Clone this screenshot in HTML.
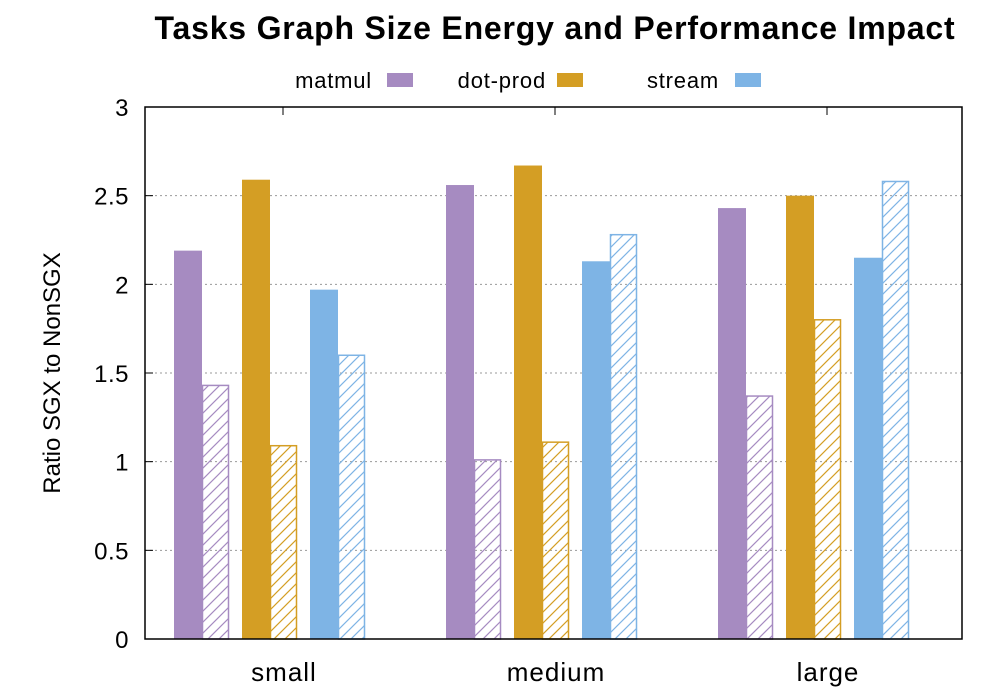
<!DOCTYPE html>
<html><head><meta charset="utf-8"><style>body{margin:0;background:#fff}svg{display:block;font-family:"Liberation Sans",sans-serif}</style></head>
<body>
<svg id="chart" width="1000" height="700">
<defs>
<pattern id="h0" patternUnits="userSpaceOnUse" width="11" height="11"><path d="M-1,12 L12,-1 M-1,1 L1,-1 M10,12 L12,10" stroke="#a68bc1" stroke-width="1.2"/></pattern>
<pattern id="h1" patternUnits="userSpaceOnUse" width="11" height="11"><path d="M-1,12 L12,-1 M-1,1 L1,-1 M10,12 L12,10" stroke="#d49e24" stroke-width="1.2"/></pattern>
<pattern id="h2" patternUnits="userSpaceOnUse" width="11" height="11"><path d="M-1,12 L12,-1 M-1,1 L1,-1 M10,12 L12,10" stroke="#7eb4e5" stroke-width="1.2"/></pattern>
</defs>
<text x="555" y="39" text-anchor="middle" font-size="32" font-weight="bold" letter-spacing="0.8">Tasks Graph Size Energy and Performance Impact</text>
<g id="legend"></g>
<g id="grid"></g>
<g id="bars"></g>
<rect x="145" y="107" width="817" height="532" fill="none" stroke="#000" stroke-width="1.5"/>
<g id="axes"></g>
<text transform="translate(60,373) rotate(-90)" text-anchor="middle" font-size="24">Ratio SGX to NonSGX</text>
</svg>
<script>
const categories = ["small","medium","large"];
const seriesNames = ["matmul","dot-prod","stream"];
const solidValues = [[2.19,2.56,2.43],[2.59,2.67,2.50],[1.97,2.13,2.15]];
const hatchValues = [[1.43,1.01,1.37],[1.09,1.11,1.80],[1.60,2.28,2.58]];
const yTicks = [0,0.5,1,1.5,2,2.5,3];
const yTickLabels = ["0","0.5","1","1.5","2","2.5","3"];
const colors = ["#a68bc1","#d49e24","#7eb4e5"];
{
const NS="http://www.w3.org/2000/svg";
const plotTop=107,plotBottom=639,plotLeft=145,plotRight=962;
function y(v){return plotBottom-(v/3)*(plotBottom-plotTop);}
function groupStart(i){return 174+i*272;}
function tickX(i){return 283+i*272;}
function mk(tag,attrs,parent){const e=document.createElementNS(NS,tag);for(const k in attrs)e.setAttribute(k,attrs[k]);document.getElementById(parent).appendChild(e);return e;}
yTicks.forEach((t,i)=>{
  if(t>0&&t<3){const g=mk('line',{x1:plotLeft,x2:plotRight,y1:y(t),y2:y(t),stroke:'#999','stroke-dasharray':'2,3'},'grid');
  
  }
  const l=mk('text',{x:129,y:y(t)+9,'text-anchor':'end','font-size':'24','letter-spacing':'0.5'},'axes');l.textContent=yTickLabels[i];
  
  
  const tk=mk('line',{x1:plotLeft,x2:plotLeft+8,y1:y(t),y2:y(t),stroke:'#000'},'axes');
  
  
});
categories.forEach((c,i)=>{
  const l=mk('text',{x:tickX(i)+1,y:681,'text-anchor':'middle','font-size':'26','letter-spacing':'1'},'axes');l.textContent=c;
  
  
  const tk=mk('line',{x1:tickX(i),x2:tickX(i),y1:plotTop,y2:plotTop+8,stroke:'#000'},'axes');
  
  
  seriesNames.forEach((s,j)=>{
    const x0=groupStart(i)+j*68;
    const b=mk('rect',{x:x0,y:y(solidValues[j][i]),width:28,height:plotBottom-y(solidValues[j][i]),fill:colors[j]},'bars');
    
    
    const h=mk('rect',{x:x0+28.5,y:y(hatchValues[j][i]),width:26,height:plotBottom-y(hatchValues[j][i]),fill:'url(#h'+j+')',stroke:colors[j],'stroke-width':'1.5'},'bars');
    
    
  });
});
const legEnd=[372,546,719],legSw=[387,557,735];
seriesNames.forEach((s,j)=>{
  const t=mk('text',{x:legEnd[j],y:88,'text-anchor':'end','font-size':'22','letter-spacing':'0.8'},'legend');t.textContent=s;
  
  
  const r=mk('rect',{x:legSw[j],y:73,width:26,height:14,fill:colors[j]},'legend');
  
  
});
}
</script>
</body></html>
